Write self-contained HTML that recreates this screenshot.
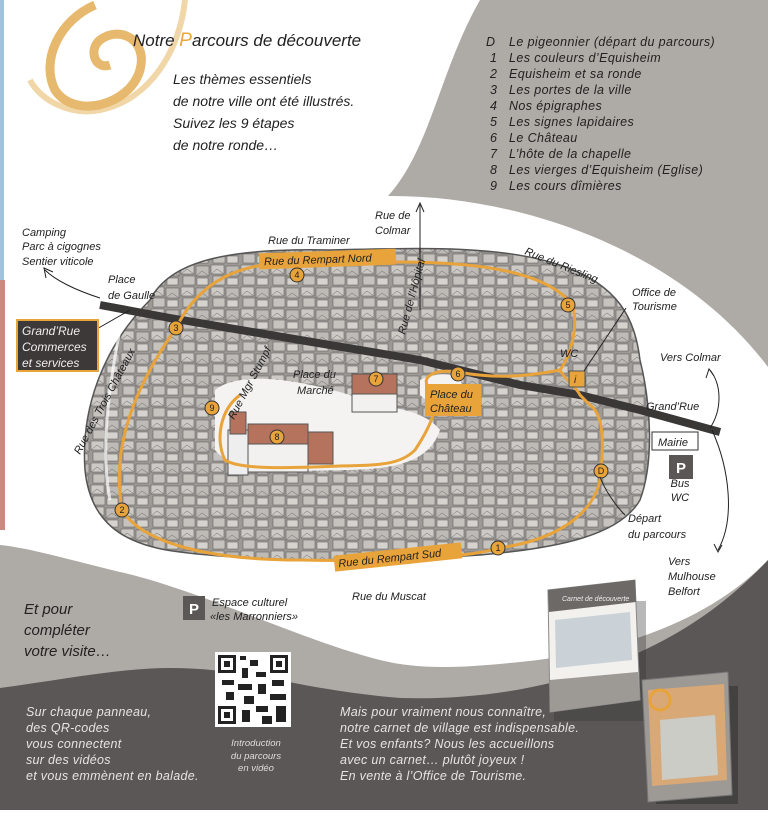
<!DOCTYPE html>
<html><head><meta charset="utf-8">
<style>
html,body{margin:0;padding:0;background:#fff;}
svg{display:block}
.h{font-family:"Liberation Sans",sans-serif;font-style:italic;}
</style></head>
<body>
<svg width="768" height="817" viewBox="0 0 768 817" xmlns="http://www.w3.org/2000/svg">
<defs>
<pattern id="houses" width="30" height="22" patternUnits="userSpaceOnUse">
<rect width="30" height="22" fill="#9d9a96"/>
<rect x="1" y="1" width="13" height="9" fill="#cdcac6" stroke="#555" stroke-width="0.5"/>
<rect x="16" y="2" width="13" height="10" fill="#bebbb7" stroke="#555" stroke-width="0.5"/>
<rect x="3" y="12" width="12" height="9" fill="#c6c3bf" stroke="#555" stroke-width="0.5"/>
<rect x="17" y="14" width="11" height="7" fill="#d6d3cf" stroke="#555" stroke-width="0.5"/>
<path d="M1 10 L7 5 L14 10 M16 12 L22 7 L29 12" stroke="#666" stroke-width="0.5" fill="none"/>
</pattern>
</defs>
<rect width="768" height="817" fill="#aeaaa5"/>
<path d="M0,0 L480,0 C440,70 430,150 388,196 C520,195 680,250 768,367 L768,560 C720,610 640,650 520,662 C460,668 420,670 380,660 C300,640 200,590 120,572 C70,560 30,548 0,545 Z" fill="#fff"/>
<path d="M0,688 C60,680 120,668 170,668 C250,668 300,690 400,698 C470,700 540,690 600,668 C680,640 730,600 768,560 L768,810 L0,810 Z" fill="#5b5756"/>
<rect x="0" y="810" width="768" height="7" fill="#fff"/>
<rect x="0" y="0" width="4" height="280" fill="#9fc3de"/>
<rect x="0" y="280" width="5" height="250" fill="#c98a80"/>

<g fill="none" stroke="#e2ad55" opacity="0.85">
<path d="M95,5 C60,20 40,60 55,90 C75,120 130,105 140,70 C148,40 120,25 100,40 C88,50 95,70 110,65" stroke-width="9"/>
<path d="M185,0 C180,50 150,100 100,110 C70,116 40,100 30,80" stroke-width="6" opacity="0.6"/>
</g>

<text x="133" y="46" font-family="Liberation Sans Narrow, Liberation Sans, sans-serif" font-style="italic" font-size="17" fill="#222">Notre <tspan fill="#e8a83c" font-size="19">P</tspan>arcours de découverte</text>
<g font-family="Liberation Sans Narrow, Liberation Sans, sans-serif" font-style="italic" font-size="14" fill="#222">
<text x="173" y="84">Les thèmes essentiels</text>
<text x="173" y="106">de notre ville ont été illustrés.</text>
<text x="173" y="128">Suivez les 9 étapes</text>
<text x="173" y="150">de notre ronde…</text>
</g>
<g class="h" font-size="12.5" fill="#222" letter-spacing="0.4">
<text x="486" y="46">D</text><text x="509" y="46">Le pigeonnier (départ du parcours)</text>
<text x="490" y="62">1</text><text x="509" y="62">Les couleurs d’Equisheim</text>
<text x="490" y="78">2</text><text x="509" y="78">Equisheim et sa ronde</text>
<text x="490" y="94">3</text><text x="509" y="94">Les portes de la ville</text>
<text x="490" y="110">4</text><text x="509" y="110">Nos épigraphes</text>
<text x="490" y="126">5</text><text x="509" y="126">Les signes lapidaires</text>
<text x="490" y="142">6</text><text x="509" y="142">Le Château</text>
<text x="490" y="158">7</text><text x="509" y="158">L’hôte de la chapelle</text>
<text x="490" y="174">8</text><text x="509" y="174">Les vierges d’Equisheim (Eglise)</text>
<text x="490" y="190">9</text><text x="509" y="190">Les cours dîmières</text>
</g>

<path d="M150,300 C170,260 230,248 330,250 C420,248 500,245 560,265 C620,285 635,320 640,360 C650,400 655,460 640,500 C620,535 560,548 480,555 C380,562 260,562 180,552 C120,545 90,520 85,470 C80,400 110,340 150,300 Z" fill="url(#houses)" stroke="#555" stroke-width="1.5"/>
<path d="M120,330 C110,380 100,450 110,500" stroke="#fff" stroke-width="3" fill="none" opacity="0.7"/>
<path d="M215,390 C240,370 300,380 350,395 C380,410 420,405 440,430 C430,460 400,470 340,470 C280,472 230,470 215,450 Z" fill="#f4f3f2"/>
<path d="M420,380 C440,370 470,372 460,395 C450,410 430,405 420,395Z" fill="#f4f3f2"/>
<path d="M100,305 L170,318 L300,340 L420,360 L520,385 L580,395 L640,410 L720,432" stroke="#3a3737" stroke-width="8" fill="none"/>
<rect x="228" y="430" width="20" height="45" fill="#eee" stroke="#555"/>
<rect x="230" y="412" width="16" height="22" fill="#b5735e" stroke="#555"/>
<rect x="248" y="424" width="60" height="20" fill="#b5735e" stroke="#555"/>
<rect x="248" y="444" width="60" height="28" fill="#f2f1ef" stroke="#555"/>
<rect x="308" y="432" width="25" height="32" fill="#b5735e" stroke="#555"/>
<rect x="352" y="374" width="45" height="20" fill="#b5735e" stroke="#555"/>
<rect x="352" y="394" width="45" height="18" fill="#f2f1ef" stroke="#555"/>
<g fill="none" stroke="#e8a33a" stroke-width="3">
<path d="M601,470 C605,430 600,412 590,405 L580,395 C575,385 565,380 560,370 C575,350 580,310 568,300 C540,270 470,262 400,262 L300,262 C240,262 200,280 176,328 C140,380 110,440 122,510 C140,540 200,560 300,560 C380,562 470,558 498,548 C560,540 600,510 601,470"/>
<path d="M560,370 C520,378 490,378 458,372 C430,368 420,380 430,388 C440,400 435,420 415,450 C400,465 380,465 340,466 C290,468 240,470 225,460 C215,440 220,410 240,395"/>
</g>
<g class="h" font-size="11" fill="#222">
<rect x="259" y="251" width="137" height="16" fill="#e8a33a" transform="rotate(-2 327 259)"/>
<text x="264" y="263" transform="rotate(-2 327 259)">Rue du Rempart Nord</text>
<rect x="334" y="549" width="128" height="16" fill="#e8a33a" transform="rotate(-6 398 557)"/>
<text x="338" y="561" transform="rotate(-6 398 557)">Rue du Rempart Sud</text>
<rect x="425" y="384" width="56" height="32" fill="#e8a33a"/>
<text x="430" y="398">Place du</text><text x="430" y="412">Château</text>
<rect x="569" y="371" width="16" height="16" fill="#e8a33a" stroke="#555"/>
<text x="574" y="383" font-size="10">i</text>
</g>
<g font-family="Liberation Sans,sans-serif" font-size="9" text-anchor="middle" fill="#222">
<g fill="#e8a33a" stroke="#333" stroke-width="1">
<circle cx="601" cy="471" r="7"/><circle cx="498" cy="548" r="7"/><circle cx="122" cy="510" r="7"/>
<circle cx="176" cy="328" r="7"/><circle cx="297" cy="275" r="7"/><circle cx="568" cy="305" r="7"/>
<circle cx="458" cy="374" r="7"/><circle cx="376" cy="379" r="7"/><circle cx="277" cy="437" r="7"/><circle cx="212" cy="408" r="7"/>
</g>
<text x="601" y="474">D</text><text x="498" y="551">1</text><text x="122" y="513">2</text><text x="176" y="331">3</text>
<text x="297" y="278">4</text><text x="568" y="308">5</text><text x="458" y="377">6</text><text x="376" y="382">7</text>
<text x="277" y="440">8</text><text x="212" y="411">9</text>
</g>
<g fill="none" stroke="#222" stroke-width="1">
<path d="M420,310 L420,205"/><path d="M416,212 L420,203 L424,212"/>
<path d="M100,298 C75,290 55,280 45,270"/><path d="M46,278 L44,268 L53,272"/>
<path d="M710,428 C722,410 722,385 710,370"/><path d="M706,378 L709,369 L714,376"/>
<path d="M712,430 C730,470 735,520 718,550"/><path d="M714,544 L718,552 L722,545"/>
<path d="M130,310 L95,330"/>
<path d="M600,477 C605,490 615,505 625,515"/>
<path d="M584,371 L626,308"/>
</g>
<g class="h" font-size="11" fill="#222">
<text x="22" y="236">Camping</text><text x="22" y="250">Parc à cigognes</text><text x="22" y="265">Sentier viticole</text>
<text x="375" y="219">Rue de</text><text x="375" y="234">Colmar</text>
<text x="268" y="244">Rue du Traminer</text>
<text x="108" y="283">Place</text><text x="108" y="299">de Gaulle</text>
<text x="524" y="254" transform="rotate(22 524 254)">Rue du Riesling</text>
<text x="632" y="296">Office de</text><text x="632" y="310">Tourisme</text>
<text x="560" y="357">WC</text>
<text x="660" y="361">Vers Colmar</text>
<text x="646" y="410">Grand’Rue</text>
<text x="293" y="378">Place du</text><text x="297" y="394">Marché</text>
<text x="680" y="487" text-anchor="middle">Bus</text><text x="680" y="501" text-anchor="middle">WC</text>
<text x="628" y="522">Départ</text><text x="628" y="538">du parcours</text>
<text x="668" y="565">Vers</text><text x="668" y="580">Mulhouse</text><text x="668" y="595">Belfort</text>
<text x="352" y="600">Rue du Muscat</text>
<text x="212" y="606">Espace culturel</text><text x="210" y="620">«les Marronniers»</text>
<text x="80" y="455" transform="rotate(-62 80 455)">Rue des Trois Châteaux</text>
<text x="234" y="420" transform="rotate(-62 234 420)">Rue Mgr Stumpf</text>
<text x="405" y="335" transform="rotate(-75 405 335)">Rue de l’Hôpital</text>
</g>
<rect x="17" y="320" width="81" height="51" fill="#3d3939" stroke="#e8a33a" stroke-width="2"/>
<g class="h" font-size="12" fill="#eee">
<text x="22" y="335">Grand’Rue</text><text x="22" y="351">Commerces</text><text x="22" y="367">et services</text>
</g>
<rect x="652" y="432" width="46" height="18" fill="#fff" stroke="#333"/>
<text x="658" y="446" class="h" font-size="11" fill="#222">Mairie</text>
<rect x="669" y="455" width="24" height="24" fill="#5b5756"/>
<text x="681" y="473" font-family="Liberation Sans,sans-serif" font-weight="bold" font-size="15" fill="#fff" text-anchor="middle">P</text>
<rect x="183" y="596" width="22" height="24" fill="#5b5756"/>
<text x="194" y="614" font-family="Liberation Sans,sans-serif" font-weight="bold" font-size="15" fill="#fff" text-anchor="middle">P</text>

<g font-family="Liberation Sans Narrow, Liberation Sans, sans-serif" font-style="italic" font-size="15" fill="#222">
<text x="24" y="614">Et pour</text><text x="24" y="635">compléter</text><text x="24" y="656">votre visite…</text>
</g>
<rect x="215" y="652" width="76" height="75" fill="#fff"/>
<g fill="#222">
<rect x="218" y="655" width="18" height="18"/><rect x="221" y="658" width="12" height="12" fill="#fff"/><rect x="224" y="661" width="6" height="6"/>
<rect x="270" y="655" width="18" height="18"/><rect x="273" y="658" width="12" height="12" fill="#fff"/><rect x="276" y="661" width="6" height="6"/>
<rect x="218" y="706" width="18" height="18"/><rect x="221" y="709" width="12" height="12" fill="#fff"/><rect x="224" y="712" width="6" height="6"/>
<rect x="240" y="656" width="6" height="4"/><rect x="250" y="660" width="8" height="6"/><rect x="242" y="668" width="6" height="10"/>
<rect x="256" y="672" width="10" height="5"/><rect x="222" y="680" width="12" height="5"/><rect x="238" y="684" width="14" height="6"/>
<rect x="258" y="684" width="8" height="10"/><rect x="272" y="680" width="12" height="6"/><rect x="226" y="692" width="8" height="8"/>
<rect x="244" y="696" width="10" height="8"/><rect x="270" y="694" width="16" height="6"/><rect x="242" y="710" width="8" height="12"/>
<rect x="256" y="706" width="12" height="6"/><rect x="262" y="716" width="10" height="8"/><rect x="276" y="706" width="10" height="16"/>
</g>
<g class="h" font-size="9.5" fill="#ddd" text-anchor="middle">
<text x="256" y="746">Introduction</text><text x="256" y="759">du parcours</text><text x="256" y="771">en vidéo</text>
</g>
<g class="h" font-size="12.5" fill="#e6e4e2" letter-spacing="0.3">
<text x="26" y="716">Sur chaque panneau,</text><text x="26" y="732">des QR-codes</text><text x="26" y="748">vous connectent</text>
<text x="26" y="764">sur des vidéos</text><text x="26" y="780">et vous emmènent en balade.</text>
<text x="340" y="716">Mais pour vraiment nous connaître,</text>
<text x="340" y="732">notre carnet de village est indispensable.</text>
<text x="340" y="748">Et vos enfants? Nous les accueillons</text>
<text x="340" y="764">avec un carnet… plutôt joyeux !</text>
<text x="340" y="780">En vente à l’Office de Tourisme.</text>
</g>
<rect x="548" y="595" width="92" height="120" fill="#333" opacity="0.35" transform="translate(6,6)"/>
<path d="M548,590 L635,580 L640,700 L550,712 Z" fill="#f3f1ee" stroke="#888"/>
<path d="M548,590 L635,580 L636,602 L549,612 Z" fill="#6d6967"/>
<text x="562" y="601" class="h" font-size="7" fill="#eee">Carnet de découverte</text>
<path d="M555,620 L630,612 L632,660 L556,668 Z" fill="#b8c4cf" opacity="0.7"/>
<path d="M550,680 L638,672 L640,700 L550,712 Z" fill="#9d9995"/>
<rect x="650" y="680" width="82" height="118" fill="#222" opacity="0.4" transform="translate(6,6)"/>
<path d="M642,680 L728,672 L732,795 L648,802 Z" fill="#9d9995" stroke="#777"/>
<path d="M648,690 L724,684 L727,780 L652,786 Z" fill="#d8a877"/>
<path d="M660,720 L715,715 L718,775 L662,780 Z" fill="#c8d4d8" opacity="0.8"/>
<circle cx="660" cy="700" r="10" fill="none" stroke="#e8a33a" stroke-width="3"/>
</svg>
</body></html>
